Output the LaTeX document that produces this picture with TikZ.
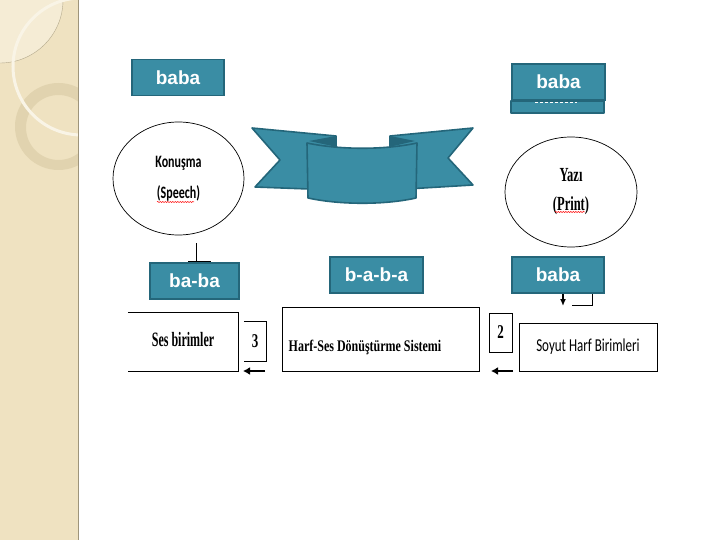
\documentclass[tikz,border=0pt]{standalone}
\usepackage{fontspec}
\usepackage{graphicx}
\setmainfont{Liberation Serif}
\newfontfamily\boxfont{Liberation Sans}
\newfontfamily\calfont{Carlito}
\usetikzlibrary{positioning,shapes.geometric,arrows.meta,decorations.pathmorphing}
\definecolor{tealfill}{RGB}{58,141,164}
\definecolor{tealline}{RGB}{36,102,122}
\definecolor{sidebeige}{RGB}{239,226,193}
\definecolor{sidelight}{RGB}{245,236,213}
\definecolor{sidering}{RGB}{225,211,175}
\tikzset{
	wordbox/.style={draw=tealline,line width=1.6pt,fill=tealfill,text=white,
		font=\boxfont\bfseries\fontsize{19}{21}\selectfont,
		minimum width=92pt,minimum height=36pt,inner sep=0pt},
	oval/.style={draw,ellipse,line width=0.7pt,minimum width=131pt,minimum height=113pt,
		inner sep=0pt,align=center},
	speechfont/.style={font=\calfont\bfseries\fontsize{12}{31}\selectfont},
	printfont/.style={font=\bfseries\fontsize{12.5}{29}\selectfont},
	plainbox/.style={draw,line width=0.9pt,inner sep=0pt},
	backarrow/.style={-{Latex[length=7pt,width=8pt]},line width=2pt},
	ribbon/.style={draw=tealline,line width=1.6pt,fill=tealfill,line join=round},
	squiggle/.style={red,line width=0.5pt,decorate,
		decoration={snake,amplitude=0.6pt,segment length=2.5pt}}
}
\begin{document}
\begin{tikzpicture}[x=1pt,y=-1pt,node distance=181.5pt]
	\useasboundingbox (0,0) rectangle (720,540);
	\fill[white] (0,0) rectangle (720,540);
	% side strip
	\begin{scope}
		\clip (0,0) rectangle (78,540);
		\fill[sidebeige] (0,0) rectangle (78,540);
		\fill[sidelight] (0,0) circle (63);
		\draw[sidering!80!black,line width=0.4pt] (0,0) circle (63);
		\fill[sidering,even odd rule] (58.5,126.5) circle (43.5) (58.5,127.5) circle (32.5);
		\draw[white!60!sidebeige,line width=3pt] (81.5,66.5) circle (68.5);
	\end{scope}
	\draw[sidering!70!black,line width=1pt] (78,0) -- (78,540);
	% ribbon
	\draw[ribbon] (252,128) -- (336,136) -- (336,190) -- (255,187) -- (280,160) -- cycle;
	\draw[ribbon] (473,128) -- (390,136) -- (390,190) -- (473,185) -- (448,158) -- cycle;
	\fill[tealline] (309,141) -- (336,136) -- (337,147) -- cycle;
	\fill[tealline] (415,141) -- (390,136) -- (389,147) -- cycle;
	\draw[ribbon] (307,143) .. controls (340,150) and (385,150) .. (417,143)
		-- (416,198) .. controls (385,205) and (340,205) .. (308,198) -- cycle;
	\node (babaL) [wordbox] at (178,77.5) {baba};
	\node (babaR) [wordbox,minimum width=93pt] at (558.5,82) {baba};
	\draw[ribbon] (babaR.south west) rectangle ++(93,12);
	\draw[white,line width=0.6pt,dash pattern=on 3pt off 2pt] (535,102.5) -- (577,102.5);
	\node (speech) [oval,speechfont] at (178.5,178.5) {\scalebox{1}[1.45]{Konuşma}\\\scalebox{1}[1.45]{(Speech)}};
	\node (print) [oval,printfont,minimum width=132pt,minimum height=110pt] at (571,192) {\scalebox{1}[1.6]{Yazı}\\\scalebox{1}[1.6]{(Print)}};
	\draw[squiggle] (157,202) -- (194,202);
	\draw[squiggle] (555,212) -- (585,212);
	% hidden number boxes
	\draw[line width=0.8pt] (188,270) rectangle (210,261);
	\draw[line width=0.8pt] (572,305) -| (592,290);
	\node (baba2) [wordbox,minimum width=89pt] at (194.5,281) {ba-ba};
	\node (baba3) [wordbox,minimum width=93pt] at (376.5,275) {b-a-b-a};
	\node (baba4) [wordbox,right of=baba3] {baba};
	\coordinate (s1) at (196,243);
	\draw[line width=0.8pt] (s1) -- (s1 |- baba2.north);
	\coordinate (d1) at (563,306);
	\draw[-{Latex[length=7pt,width=6pt]},line width=1.6pt] (baba4.south -| d1) -- (d1);
	% lower row
	\node (ses) [minimum width=110pt,minimum height=58pt,font=\bfseries\fontsize{12}{14}\selectfont] at (183,342) {\raisebox{5pt}{\scalebox{1}[1.7]{Ses birimler}}};
	\draw[line width=0.9pt] (ses.north west) -- (ses.north east) -- (ses.south east) -- (ses.south west);
	\node (n3) [minimum width=22pt,minimum height=39pt,font=\bfseries\fontsize{13}{15}\selectfont] at (255,341.5) {\scalebox{1}[1.5]{3}};
	\draw[line width=0.9pt] (n3.north west) -- (n3.north east) -- (n3.south east) -- (n3.south west);
	\node (harf) [plainbox,minimum width=197pt,minimum height=64pt] at (380.5,339) {};
	\node (harflbl) [font=\bfseries\fontsize{12}{13}\selectfont] at (365,347) {\scalebox{1}[1.35]{Harf-Ses Dönüştürme Sistemi}};
	\node (n2) [plainbox,minimum width=23pt,minimum height=39pt,font=\bfseries\fontsize{13}{15}\selectfont] at (500.5,332.5) {\scalebox{1}[1.5]{2}};
	\node (soyut) [plainbox,minimum width=138pt,minimum height=48pt,font=\calfont\fontsize{13}{15}\selectfont] at (588,347) {\raisebox{2pt}{\scalebox{1}[1.4]{Soyut Harf Birimleri}}};
	\coordinate (a3) at (265,371);
	\coordinate (b3) at (243,371);
	\coordinate (a2) at (513,371);
	\coordinate (b2) at (491,371);
	\draw[backarrow] (a3) -- (b3);
	\draw[backarrow] (a2) -- (b2);
\end{tikzpicture}
\end{document}
